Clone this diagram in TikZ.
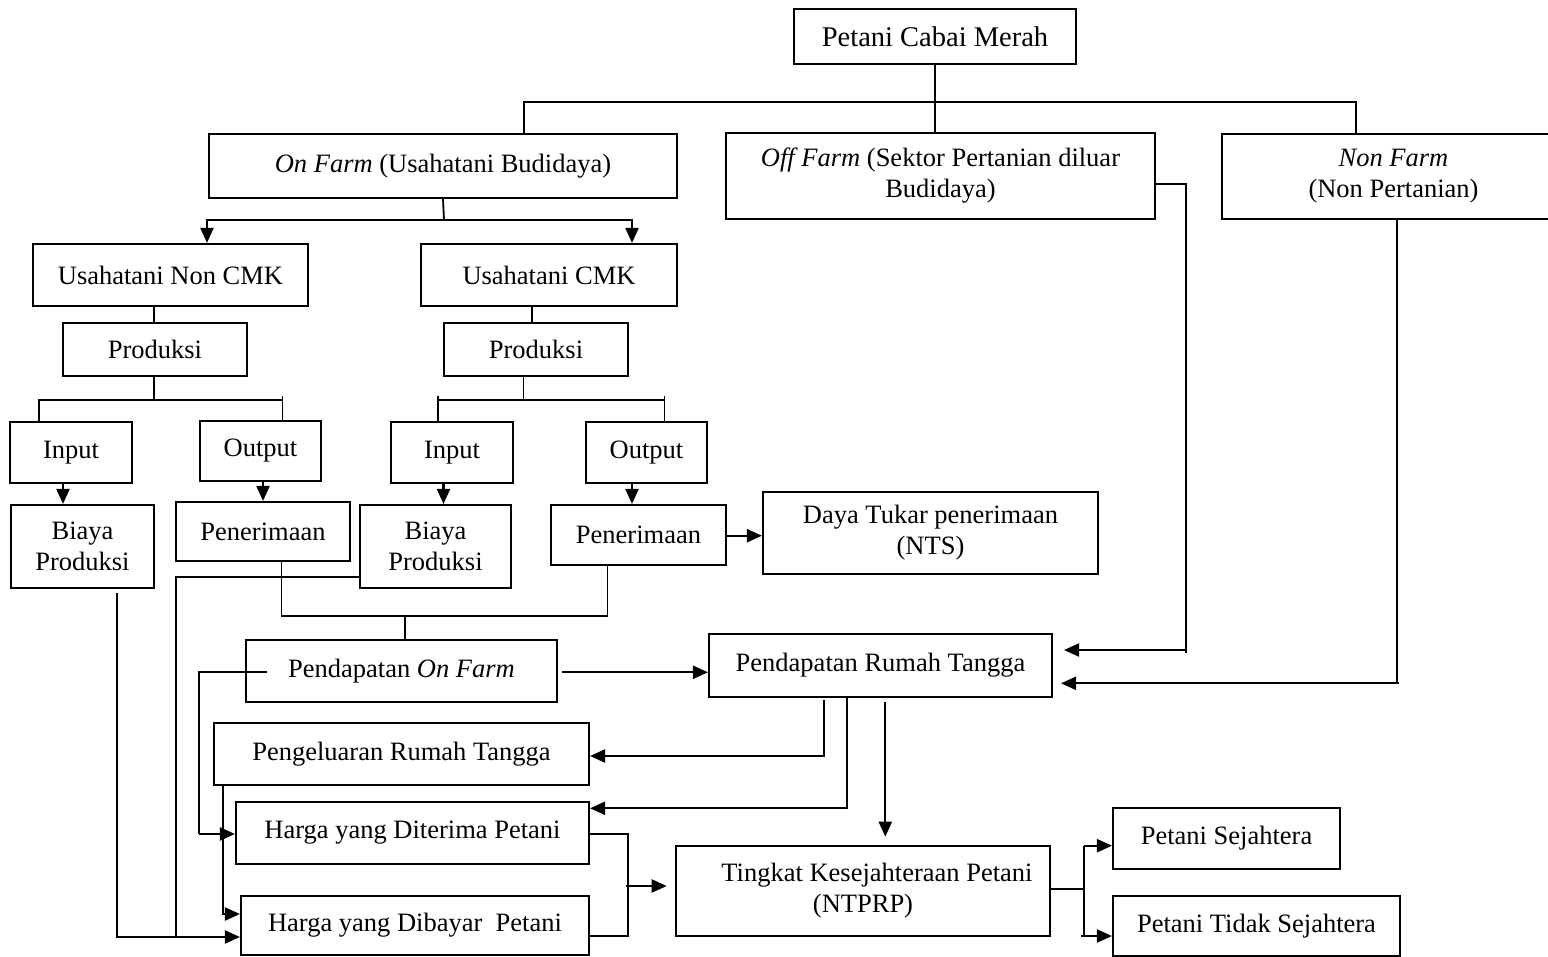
\documentclass[tikz,border=0pt]{standalone}
\usepackage{fontspec}
\setmainfont{Liberation Serif}
\usetikzlibrary{arrows.meta}
\begin{document}
\begin{tikzpicture}[x=1pt,y=-1pt,
  bx/.style={draw,line width=2.1pt,inner sep=0pt,align=center,font=\fontsize{26.5}{31}\selectfont},
  ln/.style={line width=1.8pt},
  arr/.style={line width=2.2pt,-{Triangle[length=15pt,width=13pt]}}]
\fill[white] (0,0) rectangle (1548,957);
\useasboundingbox (0,0) rectangle (1548,957);
% boxes
\node[bx,minimum width=282pt,minimum height=55pt,font=\fontsize{28.5}{33}\selectfont] (top) at (935,36.5) {Petani Cabai Merah};
\node[bx,minimum width=468pt,minimum height=64pt] (onf) at (443,166) {\textit{On Farm} (Usahatani Budidaya)};
\node[bx,minimum width=429pt,minimum height=86pt] (off) at (940.5,176) {\textit{Off Farm} (Sektor Pertanian diluar\\Budidaya)};
\node[bx,minimum width=343pt,minimum height=85pt] (non) at (1393.5,176.5) {\textit{Non Farm}\\(Non Pertanian)};
\node[bx,minimum width=275pt,minimum height=62pt] (unc) at (170.5,275) {Usahatani Non CMK};
\node[bx,minimum width=256pt,minimum height=62pt] (uc) at (549,275) {Usahatani CMK};
\node[bx,minimum width=184pt,minimum height=53pt] (pr1) at (155,349.5) {Produksi};
\node[bx,minimum width=184pt,minimum height=53pt] (pr2) at (536,349.5) {Produksi};
\node[bx,minimum width=122pt,minimum height=61pt] (in1) at (71,452.5) {Input};
\node[bx,minimum width=121pt,minimum height=60pt] (out1) at (260.5,451) {Output};
\node[bx,minimum width=122pt,minimum height=61pt] (in2) at (452,452.5) {Input};
\node[bx,minimum width=121pt,minimum height=61pt] (out2) at (646.5,452.5) {Output};
\node[bx,minimum width=143pt,minimum height=83pt] (by1) at (82.5,546.5) {Biaya\\Produksi};
\node[bx,minimum width=174pt,minimum height=59pt] (pn1) at (263,531.5) {Penerimaan};
\node[bx,minimum width=151pt,minimum height=83pt] (by2) at (435.5,546.5) {Biaya\\Produksi};
\node[bx,minimum width=175pt,minimum height=60pt] (pn2) at (638.5,535) {Penerimaan};
\node[bx,minimum width=335pt,minimum height=82pt] (dt) at (930.5,533) {Daya Tukar penerimaan\\(NTS)};
\node[bx,minimum width=311pt,minimum height=62pt] (pof) at (401.5,671) {Pendapatan \textit{On Farm}};
\node[bx,minimum width=343pt,minimum height=63pt] (prt) at (880.5,665.5) {Pendapatan Rumah Tangga};
\node[bx,minimum width=375pt,minimum height=62pt] (pk) at (401.5,754) {Pengeluaran Rumah Tangga};
\node[bx,minimum width=353pt,minimum height=62pt] (hd) at (412.5,833) {Harga yang Diterima Petani};
\node[bx,minimum width=348pt,minimum height=59pt] (hb) at (415,925.5) {Harga yang Dibayar\ \ Petani};
\node[bx,minimum width=374pt,minimum height=90pt] (tk) at (863,891) {\hspace*{28pt}Tingkat Kesejahteraan Petani\\(NTPRP)};
\node[bx,minimum width=227pt,minimum height=61pt] (ps) at (1226.5,838.5) {Petani Sejahtera};
\node[bx,minimum width=287pt,minimum height=60pt] (pts) at (1256.5,926) {Petani Tidak Sejahtera};
% top tree
\draw[ln] (top.south) -- (top.south |- off.north);
\draw[ln] (524,0 |- onf.north) -- (524,101.7) -- (1356,101.7) -- (1356,0 |- non.north);
% on farm split
\draw[ln] (onf.south) -- (444,220);
\draw[arr] (444,220) -| (207,0 |- unc.north);
\draw[arr] (444,220) -| (632,0 |- uc.north);
\draw[ln] (154,0 |- unc.south) -- (154,0 |- pr1.north);
\draw[ln] (532,0 |- uc.south) -- (532,0 |- pr2.north);
% produksi splits
\draw[ln] (154,0 |- pr1.south) -- (154,400);
\draw[ln] (39,0 |- in1.north) |- (282.5,400);
\draw[ln] (282.5,396) -- (282.5,0 |- out1.north);
\draw[ln] (523.5,0 |- pr2.south) -- (523.5,400);
\draw[ln] (437.6,396) -- (437.6,0 |- in2.north);
\draw[ln] (437.6,400) -- (664.4,400);
\draw[ln] (664.4,396) -- (664.4,0 |- out2.north);
% input/output arrows
\draw[arr] (63,0 |- in1.south) -- (63,0 |- by1.north);
\draw[arr] (263,0 |- out1.south) -- (263,0 |- pn1.north);
\draw[arr] (443.5,0 |- in2.south) -- (443.5,0 |- by2.north);
\draw[arr] (632,0 |- out2.south) -- (632,0 |- pn2.north);
\draw[arr] (pn2.east |- 0,535.7) -- (dt.west |- 0,535.7);
% penerimaan to pendapatan on farm
\draw[ln] (281.5,0 |- pn1.south) |- (607.5,616) -- (607.5,0 |- pn2.south);
\draw[ln] (405,616) -- (405,0 |- pof.north);
% biaya lines to dibayar
\draw[ln] (by2.west |- 0,576.7) -| (176,937);
\draw[arr] (116.7,593) |- (hb.west |- 0,937);
% pendapatan on farm to diterima
\draw[ln] (266.7,672.3) -| (198.7,834);
\draw[arr] (198.7,834) -- (hd.west |- 0,834);
% pengeluaran to dibayar
\draw[arr] (223.3,0 |- pk.south) |- (hb.west |- 0,914);
% on farm to rumah tangga
\draw[arr] (562,672.3) -- (prt.west |- 0,672.3);
% rumah tangga outputs
\draw[arr] (824,700) |- (pk.east |- 0,756);
\draw[arr] (846.7,0 |- prt.south) |- (hd.east |- 0,808.3);
\draw[arr] (885.3,701.7) -- (885.3,836.7);
% off farm / non farm to rumah tangga
\draw[ln] (off.east |- 0,184.3) -| (1185.7,653);
\draw[arr] (1185.7,650) -- (1064,650);
\draw[ln] (1397.3,0 |- non.south) -- (1397.3,683.3);
\draw[arr] (1399,683.3) -- (1061,683.3);
% harga to tingkat
\draw[ln] (hd.east |- 0,834.3) -| (627.7,935.7) -- (hb.east |- 0,935.7);
\draw[arr] (625.7,886) -- (666.7,886);
% tingkat split
\draw[ln] (tk.east |- 0,889.3) -- (1083.7,889.3);
\draw[ln] (1083.7,845.7) -- (1083.7,936);
\draw[arr] (1083.7,845.7) -- (ps.west |- 0,845.7);
\draw[arr] (1081,936) -- (pts.west |- 0,936);
\end{tikzpicture}
\end{document}
